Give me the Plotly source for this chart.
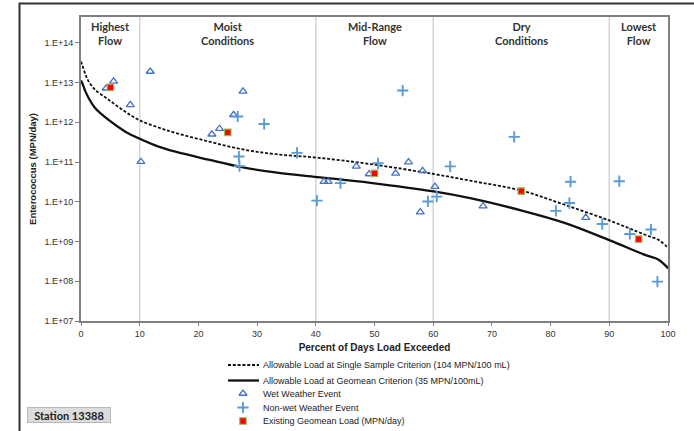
import plotly.graph_objects as go

# ---------------- data ----------------
flow_pct = [0, 0.2, 0.75, 1.3, 2.4, 4.7, 7.5, 10.1, 13.2, 16.1, 21.7, 27.4, 33.1,
            40.2, 49.3, 60.1, 66.3, 75.1, 82.5, 90.2, 96.1, 98.4, 99.8, 100]
single_sample_load = [3.4e13, 2.8e13, 1.6e13, 1.07e13, 6.6e12, 3.7e12, 1.86e12, 1.1e12,
                      7.4e11, 5.4e11, 3.3e11, 2.1e11, 1.58e11, 1.29e11, 8.9e10, 5.0e10,
                      3.4e10, 1.9e10, 8.3e9, 3.3e9, 1.48e9, 1.1e9, 7.4e8, 6.9e8]
geomean_load = [1.12e13, 9.8e12, 6.0e12, 4.1e12, 2.3e12, 1.15e12, 5.9e11, 3.8e11,
                2.45e11, 1.82e11, 1.15e11, 7.4e10, 5.5e10, 4.2e10, 3.0e10, 1.82e10,
                1.23e10, 6.0e9, 2.9e9, 1.05e9, 4.6e8, 3.5e8, 2.3e8, 2.1e8]

wet_pct = [4.3, 5.55, 8.4, 11.8, 10.2, 22.3, 23.6, 26.0, 27.6, 41.4, 42.1, 46.9,
           49.1, 53.6, 55.8, 58.2, 57.8, 60.3, 68.5, 86.0]
wet_load = [7.2e12, 1.07e13, 2.75e12, 1.9e13, 1.02e11, 5.0e11, 6.9e11, 1.55e12,
            6.0e12, 3.2e10, 3.2e10, 7.8e10, 5.0e10, 5.2e10, 1.0e11, 6.0e10, 5.5e9,
            2.4e10, 7.8e9, 4.0e9]

dry_pct = [26.7, 31.2, 26.9, 27.0, 36.8, 40.2, 44.2, 50.6, 54.8, 59.1, 60.6, 62.9,
           73.8, 80.9, 83.2, 83.4, 88.8, 91.7, 93.5, 97.1, 98.2]
dry_load = [1.4e12, 9.1e11, 1.38e11, 7.9e10, 1.7e11, 1.07e10, 2.95e10, 9.3e10,
            6.3e12, 1.02e10, 1.35e10, 7.8e10, 4.3e11, 5.9e9, 9.3e9, 3.2e10, 2.75e9,
            3.3e10, 1.55e9, 2.0e9, 9.8e7]

geo_pct = [5, 25, 50, 75, 95]
geo_load = [7.6e12, 5.6e11, 5.2e10, 1.86e10, 1.15e9]

zone_bounds = [10, 40, 60, 90]
zone_centers = [5, 25, 50, 75, 95]
zone_labels = ["Highest<br>Flow", "Moist<br>Conditions", "Mid-Range<br>Flow",
               "Dry<br>Conditions", "Lowest<br>Flow"]

y_tickvals = [1e7, 1e8, 1e9, 1e10, 1e11, 1e12, 1e13, 1e14]
y_ticktext = ["1.E+07", "1.E+08", "1.E+09", "1.E+10", "1.E+11", "1.E+12", "1.E+13", "1.E+14"]

legend_names = ["Allowable Load at Single Sample Criterion (104 MPN/100 mL)",
                "Allowable Load at Geomean Criterion (35 MPN/100mL)",
                "Wet Weather Event",
                "Non-wet Weather Event",
                "Existing Geomean Load (MPN/day)"]

# ---------------- layout geometry (pixels) ----------------
W, H = 694, 431
PL, PR, PT, PB = 81, 668, 17, 321
LEG_TOP = 330


def fx(x):
    return x / W


def fy(y):
    return 1 - y / H


BASE_FONT = "Liberation Sans, Arial, sans-serif"
LABEL_FONT = "Lato, Open Sans, sans-serif"

WET_COLOR = "#4472C4"
DRY_COLOR = "#5B9BD5"
SQ_FILL = "#FF0000"
SQ_LINE = "#9BBB59"

dash_style = dict(color="#111111", width=1.8, dash="3px,1.8px")
solid_style = dict(color="#111111", width=2.3)
wet_marker = dict(symbol="triangle-up-open", size=7, color=WET_COLOR, line=dict(width=1.3, color=WET_COLOR))
dry_marker = dict(symbol="cross-thin", size=8, color=DRY_COLOR, line=dict(width=1.9, color=DRY_COLOR))
geo_marker = dict(symbol="square", size=6.5, color=SQ_FILL, line=dict(width=1.2, color=SQ_LINE))

fig = go.Figure()

fig.add_trace(go.Scatter(x=flow_pct, y=single_sample_load, mode="lines", line=dash_style,
                         line_shape="spline", name=legend_names[0], showlegend=False))
fig.add_trace(go.Scatter(x=flow_pct, y=geomean_load, mode="lines", line=solid_style,
                         line_shape="spline", name=legend_names[1], showlegend=False))
fig.add_trace(go.Scatter(x=wet_pct, y=wet_load, mode="markers", marker=wet_marker,
                         name=legend_names[2], showlegend=False))
fig.add_trace(go.Scatter(x=dry_pct, y=dry_load, mode="markers", marker=dry_marker,
                         name=legend_names[3], showlegend=False))
fig.add_trace(go.Scatter(x=geo_pct, y=geo_load, mode="markers", marker=geo_marker,
                         name=legend_names[4], showlegend=False))

# ---- compact legend drawn in its own pixel-space subplot below the chart ----
leg_rows = [365, 380.5, 393.5, 407.5, 421]
leg_x0, leg_x1, leg_mx, leg_tx = 228, 259, 243, 261
fig.add_trace(go.Scatter(x=[leg_x0, leg_x1], y=[leg_rows[0]] * 2, mode="lines", line=dash_style,
                         xaxis="x2", yaxis="y2", showlegend=False, hoverinfo="skip"))
fig.add_trace(go.Scatter(x=[leg_x0, leg_x1], y=[leg_rows[1]] * 2, mode="lines", line=solid_style,
                         xaxis="x2", yaxis="y2", showlegend=False, hoverinfo="skip"))
for row, mk in zip(leg_rows[2:], [wet_marker, dry_marker, geo_marker]):
    fig.add_trace(go.Scatter(x=[leg_mx], y=[row], mode="markers", marker=mk,
                             xaxis="x2", yaxis="y2", showlegend=False, hoverinfo="skip"))

annotations = []
for row, name in zip(leg_rows, legend_names):
    annotations.append(dict(x=leg_tx, y=row, xref="x2", yref="y2", text=name, showarrow=False,
                            xanchor="left", yanchor="middle",
                            font=dict(family=BASE_FONT, size=9, color="#222222")))

for cx, lab in zip(zone_centers, zone_labels):
    annotations.append(dict(x=cx, y=1, xref="x", yref="y domain", text="<b>" + lab + "</b>",
                            showarrow=False, xanchor="center", yanchor="top", yshift=-1,
                            font=dict(family=LABEL_FONT, size=11, color="#333333")))

annotations.append(dict(x=fx(69), y=fy(415), xref="paper", yref="paper",
                        text="<b>Station 13388</b>", showarrow=False,
                        xanchor="center", yanchor="middle", width=80, height=12,
                        font=dict(family=LABEL_FONT, size=11, color="#222222"),
                        bgcolor="#DCDCDC", bordercolor="#B8B8B8", borderwidth=1, borderpad=1))

shapes = []
for b in zone_bounds:
    shapes.append(dict(type="line", xref="x", yref="y domain", x0=b, x1=b, y0=0, y1=1,
                       line=dict(color="#D4D4D4", width=1.5), layer="below"))
# outer frame of the exhibit
shapes.append(dict(type="rect", xref="paper", yref="paper", x0=fx(19.5), x1=fx(720),
                   y0=fy(460), y1=fy(3.5), line=dict(color="#333333", width=2), layer="below"))

fig.update_layout(
    width=W, height=H,
    margin=dict(l=0, r=0, t=0, b=0, autoexpand=False),
    paper_bgcolor="white", plot_bgcolor="white",
    showlegend=False,
    font=dict(family=BASE_FONT, size=9, color="#333333"),
    annotations=annotations,
    shapes=shapes,
    xaxis=dict(domain=[fx(PL), fx(PR)], anchor="y", automargin=False,
               range=[0, 100], tick0=0, dtick=10, showgrid=False, zeroline=False,
               showline=True, linecolor="#7F7F7F", linewidth=2, mirror=True,
               ticks="outside", ticklen=3, tickcolor="#7F7F7F", tickwidth=1,
               tickfont=dict(size=9, color="#333333"),
               title=dict(text="<b>Percent of Days Load Exceeded</b>", standoff=6,
                          font=dict(size=10, color="#222222"))),
    yaxis=dict(domain=[fy(PB), fy(PT)], anchor="x", automargin=False,
               type="log", range=[7, 14.65], tickvals=y_tickvals, ticktext=y_ticktext,
               showgrid=False, zeroline=False,
               showline=True, linecolor="#7F7F7F", linewidth=2, mirror=True,
               ticks="outside", ticklen=4, tickcolor="#7F7F7F", tickwidth=1,
               tickfont=dict(size=9, color="#333333"),
               title=dict(text="<b>Enterococcus (MPN/day)</b>", standoff=6,
                          font=dict(size=9.5, color="#222222"))),
    xaxis2=dict(domain=[0, 1], anchor="y2", range=[0, W], visible=False, fixedrange=True,
                automargin=False),
    yaxis2=dict(domain=[0, fy(LEG_TOP)], anchor="x2", range=[H, LEG_TOP], visible=False,
                fixedrange=True, automargin=False),
)

fig.write_html("out.html",
               config={"displayModeBar": False},
               post_script="document.body.style.margin='0px';"
                           "document.documentElement.style.overflow='hidden';")
